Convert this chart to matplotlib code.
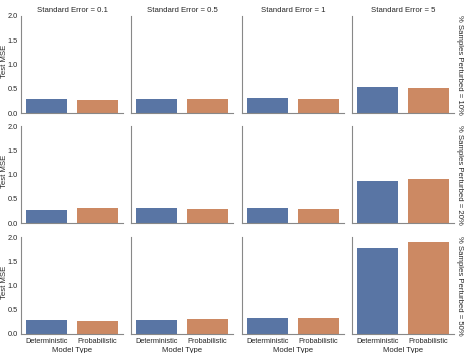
import matplotlib
matplotlib.use("Agg")
import matplotlib.pyplot as plt
import colorsys

plt.rcParams['font.family'] = ['Liberation Sans', 'DejaVu Sans']

model_types = ["Deterministic", "Probabilistic"]
std_errors = ["0.1", "0.5", "1", "5"]
perturbed = ["10%", "20%", "50%"]

# Test MSE values: rows = % perturbed, cols = standard error, [deterministic, probabilistic]
mse_10 = [[0.29, 0.27], [0.29, 0.29], [0.31, 0.29], [0.53, 0.52]]
mse_20 = [[0.27, 0.30], [0.31, 0.29], [0.31, 0.29], [0.87, 0.91]]
mse_50 = [[0.28, 0.26], [0.29, 0.30], [0.32, 0.33], [1.77, 1.90]]
mse_rows = [mse_10, mse_20, mse_50]

yticks = [0.0, 0.5, 1.0, 1.5, 2.0]

def desat(hexc, s=0.75):
    r, g, b = matplotlib.colors.to_rgb(hexc)
    h, l, sat = colorsys.rgb_to_hls(r, g, b)
    return colorsys.hls_to_rgb(h, l, sat * s)

colors = [desat("#4C72B0"), desat("#DD8452")]

W, H = 471, 353
fig = plt.figure(figsize=(W / 100, H / 100), dpi=100)

col_left = [21, 131, 242, 352]
row_top = [16, 126, 237]
aw, ah = 102, 97
fs_tick = 5.3
fs_lab = 5.6
spine_c = "#888888"
txt_c = "#262626"

for r, rowvals in enumerate(mse_rows):
    for c, vals in enumerate(rowvals):
        ax = fig.add_axes([col_left[c] / W, 1 - (row_top[r] + ah) / H, aw / W, ah / H])
        ax.bar([0, 1], vals, width=0.8, color=colors, edgecolor="none")
        ax.set_xlim(-0.5, 1.5)
        ax.set_ylim(0, 2.0)
        for s in ["top", "right"]:
            ax.spines[s].set_visible(False)
        for s in ["left", "bottom"]:
            ax.spines[s].set_color(spine_c)
            ax.spines[s].set_linewidth(0.8)
        ax.tick_params(axis="x", length=0, labelsize=fs_tick, pad=3, colors=txt_c)
        ax.tick_params(axis="y", length=0, labelsize=fs_tick, pad=2.5, colors=txt_c)
        ax.set_xticks([0, 1])
        if r == 2:
            ax.set_xticklabels(model_types)
            ax.set_xlabel("Model Type", fontsize=fs_lab, labelpad=1, color=txt_c)
        else:
            ax.set_xticklabels([])
        ax.set_yticks(yticks)
        if c == 0:
            ax.set_yticklabels([f"{v:.1f}" for v in yticks])
            fig.text(4.2 / W, 1 - (row_top[r] + ah / 2 - 3) / H, "Test MSE", rotation=90,
                     ha="center", va="center", fontsize=fs_lab, color=txt_c)
        else:
            ax.set_yticklabels([])
        if r == 0:
            ax.set_title(f"Standard Error = {std_errors[c]}", fontsize=fs_lab, pad=3, color=txt_c)
        if c == 3:
            fig.text(460 / W, 1 - (row_top[r] + ah / 2) / H, f"% Samples Perturbed = {perturbed[r]}",
                     rotation=270, va="center", ha="center", fontsize=fs_lab, color=txt_c)

fig.savefig("out.png", dpi=100)
